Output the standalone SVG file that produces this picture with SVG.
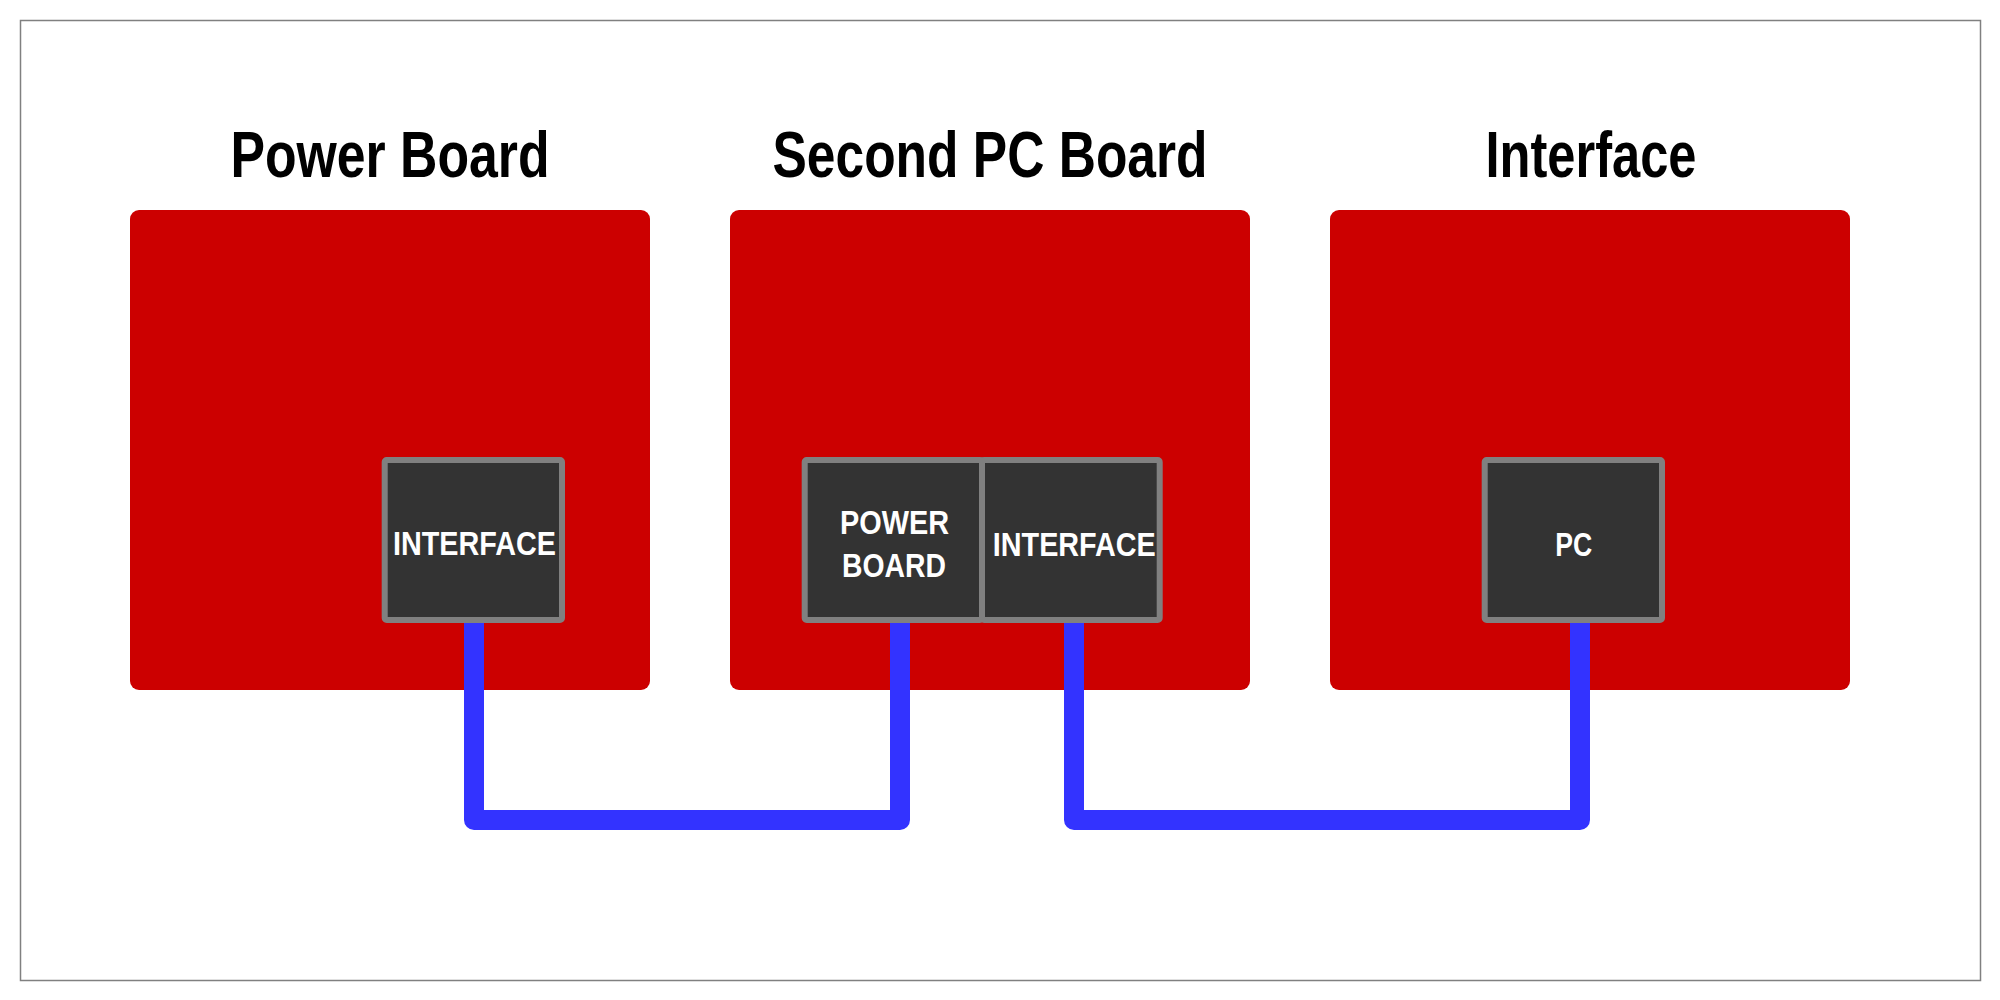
<svg xmlns="http://www.w3.org/2000/svg" width="2000" height="1000" viewBox="0 0 2000 1000">
<style>
.frame{fill:#ffffff;stroke:#808080;stroke-width:1.5}
.board{fill:#cc0000}
.title{font-family:"Liberation Sans",Arial,sans-serif;font-weight:bold;font-size:64px;fill:#000000;text-anchor:middle}
.port{fill:#333333;stroke:#808080;stroke-width:6}
.plabel{font-family:"Liberation Sans",Arial,sans-serif;font-weight:bold;font-size:34px;fill:#ffffff;text-anchor:middle}
.wire{fill:none;stroke:#3333ff;stroke-width:20;stroke-linejoin:round}
</style>
<rect class="frame" x="20.5" y="20.5" width="1960" height="960"/>
<g id="power-board">
<text class="title" x="390" y="177" textLength="319" lengthAdjust="spacingAndGlyphs">Power Board</text>
<rect class="board" x="130" y="210" width="520" height="480" rx="9"/>
</g>
<g id="second-pc-board">
<text class="title" x="990" y="177" textLength="435" lengthAdjust="spacingAndGlyphs">Second PC Board</text>
<rect class="board" x="730" y="210" width="520" height="480" rx="9"/>
</g>
<g id="interface-board">
<text class="title" x="1591" y="177" textLength="211" lengthAdjust="spacingAndGlyphs">Interface</text>
<rect class="board" x="1330" y="210" width="520" height="480" rx="9"/>
</g>
<g id="connectors">
<path class="wire" d="M474 620 V820 H900 V620"/>
<path class="wire" d="M1074 620 V820 H1580 V620"/>
</g>
<g id="power-board-interface">
<rect class="port" x="384.7" y="460" width="177.3" height="160" rx="2"/>
<text class="plabel" x="474.5" y="555" textLength="163" lengthAdjust="spacingAndGlyphs">INTERFACE</text>
</g>
<g id="second-pc-power-board">
<rect class="port" x="804.7" y="460" width="177.3" height="160" rx="2"/>
<text class="plabel" x="894.5" y="534" textLength="109" lengthAdjust="spacingAndGlyphs">POWER</text>
<text class="plabel" x="894" y="576.5" textLength="104" lengthAdjust="spacingAndGlyphs">BOARD</text>
</g>
<g id="second-pc-interface">
<rect class="port" x="982" y="460" width="177.7" height="160" rx="2"/>
<text class="plabel" x="1074.3" y="556" textLength="163" lengthAdjust="spacingAndGlyphs">INTERFACE</text>
</g>
<g id="interface-pc">
<rect class="port" x="1484.7" y="460" width="177.3" height="160" rx="2"/>
<text class="plabel" x="1573.7" y="555.5" textLength="37" lengthAdjust="spacingAndGlyphs">PC</text>
</g>
</svg>
